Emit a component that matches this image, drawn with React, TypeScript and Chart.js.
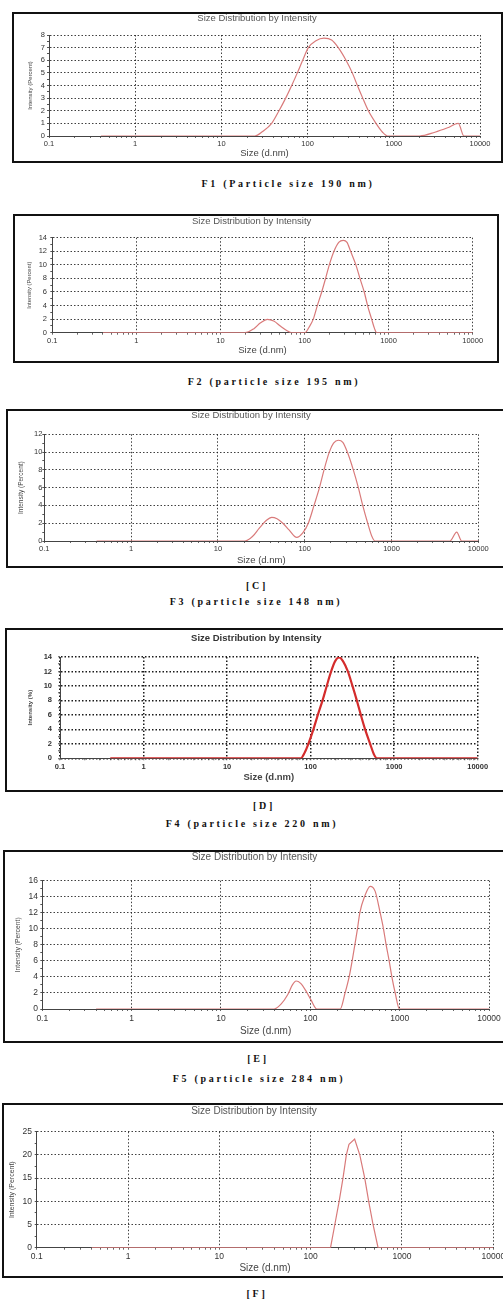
import React, { useEffect, useRef } from 'react';
import { Chart, registerables } from 'chart.js';

Chart.register(...registerables);

// ---------- shared axis data ----------
const X_MAJOR_VALUES = [0.1, 1, 10, 100, 1000, 10000];
const X_MAJOR_LABELS = ['0.1', '1', '10', '100', '1000', '10000'];
const X_MINOR_FACTORS = [2, 3, 4, 5, 6, 7, 8, 9];
const PANEL_TITLE = 'Size Distribution by Intensity';
const X_TITLE = 'Size (d.nm)';

// ---------- F1 ----------
const F1_SIZE = [0.4, 10, 24.5, 30, 38.3, 46.6, 55.7, 65.4, 76, 87.7, 102, 125, 155, 190, 227, 279, 330, 378, 436, 507, 622, 740, 850, 2000, 3000, 4200, 5600, 6500, 10000];
const F1_INTENSITY = [0, 0, 0, 0.35, 1, 2, 3, 4, 5, 6, 7, 7.55, 7.75, 7.6, 7, 6, 5, 4, 3, 2, 1, 0.3, 0, 0, 0.3, 0.65, 1.0, 0, 0];
const F1_Y_TICKS = [0, 1, 2, 3, 4, 5, 6, 7, 8];

// ---------- F2 ----------
const F2_SIZE = [0.4, 10, 19.6, 25, 30, 36, 43, 52, 62, 70, 96, 101, 113, 127, 142, 160, 178, 197, 224, 255, 289, 320, 353, 408, 456, 513, 562, 628, 680, 720, 10000];
const F2_INTENSITY = [0, 0, 0, 0.6, 1.45, 1.97, 1.72, 0.95, 0.3, 0, 0, 0, 0.8, 2, 4, 6, 8, 10, 12, 13.3, 13.6, 13.3, 12, 10, 8, 6, 4, 2, 0.6, 0, 0];
const F2_Y_TICKS = [0, 2, 4, 6, 8, 10, 12, 14];

// ---------- F3 ----------
const F3_SIZE = [0.4, 10, 20.5, 25, 30, 36, 41.7, 48, 56, 66, 81, 95, 110, 128, 148, 167, 192, 215, 244, 275, 310, 363, 415, 466, 532, 590, 646, 4720, 5640, 6430, 10000];
const F3_INTENSITY = [0, 0, 0, 0.5, 1.45, 2.3, 2.66, 2.5, 2.0, 1.25, 0.4, 0.9, 2, 4, 6, 8, 10, 11.0, 11.33, 11.1, 10, 8, 6, 4, 2, 0.6, 0, 0, 1.0, 0, 0];
const F3_Y_TICKS = [0, 2, 4, 6, 8, 10, 12];

// ---------- F4 ----------
const F4_SIZE = [0.4, 10, 76.4, 85, 94, 108, 122, 139, 156, 176, 196, 219, 245, 279, 317, 357, 399, 449, 516, 570, 621, 10000];
const F4_INTENSITY = [0, 0, 0, 0.8, 2, 4, 6, 8, 10, 12, 13.4, 13.95, 13.4, 12, 10, 8, 6, 4, 2, 0.6, 0, 0];
const F4_Y_TICKS = [0, 2, 4, 6, 8, 10, 12, 14];

// ---------- F5 ----------
const F5_SIZE = [0.4, 10, 39.3, 47, 56, 63, 69.3, 78, 90, 102, 118, 216, 245, 272, 294, 315, 337, 358, 404, 468, 531, 605, 659, 706, 763, 818, 891, 996, 10000];
const F5_INTENSITY = [0, 0, 0, 0.6, 1.8, 3.0, 3.49, 3.2, 2.2, 1.1, 0, 0, 2, 4, 6, 8, 10, 12, 14, 15.3, 14.7, 12, 10, 8, 6, 4, 2, 0, 0];
const F5_Y_TICKS = [0, 2, 4, 6, 8, 10, 12, 14, 16];

// ---------- F6 ----------
const F6_SIZE = [0.4, 10, 165, 184, 205, 226, 246, 263, 303, 345, 391, 432, 482, 547, 10000];
const F6_INTENSITY = [0, 0, 0, 5, 10, 15, 20, 22.3, 23.4, 20, 15, 10, 5, 0, 0];
const F6_Y_TICKS = [0, 5, 10, 15, 20, 25];

const SANS = '"Liberation Sans", Arial, Helvetica, sans-serif';
const SERIF = '"Liberation Serif", "Times New Roman", Times, serif';
const BORDER = 2;

type Caption = { text: string; cx: number; cy: number };
type PanelDef = {
  sizes: number[];
  values: number[];
  yTicks: number[];
  yTitle: string;
  box: { x: number; y: number; w: number; h: number };
  plot: { l: number; t: number; r: number; b: number };
  title: { x: number; y: number; size: number; bold?: boolean };
  xTickCY: number;
  xTitleCY: number;
  yTitleCX: number;
  yLabelRight: number;
  tickSize: number;
  xTitleSize: number;
  yTitleSize: number;
  lineColor: string;
  lineWidth: number;
  gridColor: string;
  gridWidth: number;
  tension: number;
  bold?: boolean;
  captions: Caption[];
};

const LINE_PINK = '#d97a7a';

const PANELS: PanelDef[] = [
  {
    sizes: F1_SIZE, values: F1_INTENSITY, yTicks: F1_Y_TICKS, yTitle: 'Intensity (Percent)',
    box: { x: 12, y: 12, w: 491, h: 151 },
    plot: { l: 49, t: 35, r: 480, b: 136 },
    title: { x: 257, y: 18, size: 9.5 },
    xTickCY: 144, xTitleCY: 153, yTitleCX: 30, yLabelRight: 45,
    tickSize: 7.5, xTitleSize: 9.5, yTitleSize: 6,
    lineColor: LINE_PINK, lineWidth: 1.2, gridColor: 'rgba(30,30,30,0.85)', gridWidth: 1, tension: 0.4,
    captions: [{ text: 'F1 (Particle size 190 nm)', cx: 288, cy: 184 }],
  },
  {
    sizes: F2_SIZE, values: F2_INTENSITY, yTicks: F2_Y_TICKS, yTitle: 'Intensity (Percent)',
    box: { x: 13, y: 214, w: 486, h: 149 },
    plot: { l: 52.3, t: 237.7, r: 472.7, b: 332.7 },
    title: { x: 251.7, y: 221, size: 9.5 },
    xTickCY: 341, xTitleCY: 350, yTitleCX: 29, yLabelRight: 47,
    tickSize: 7.5, xTitleSize: 9.5, yTitleSize: 5.8,
    lineColor: LINE_PINK, lineWidth: 1.2, gridColor: 'rgba(30,30,30,0.85)', gridWidth: 1, tension: 0.4,
    captions: [{ text: 'F2 (particle size 195 nm)', cx: 274, cy: 382 }],
  },
  {
    sizes: F3_SIZE, values: F3_INTENSITY, yTicks: F3_Y_TICKS, yTitle: 'Intensity (Percent)',
    box: { x: 6, y: 409, w: 520, h: 159 },
    plot: { l: 44.3, t: 434.3, r: 478.3, b: 541 },
    title: { x: 251, y: 415, size: 9.5 },
    xTickCY: 549, xTitleCY: 560, yTitleCX: 21.7, yLabelRight: 43,
    tickSize: 7.5, xTitleSize: 9.5, yTitleSize: 6.5,
    lineColor: LINE_PINK, lineWidth: 1.2, gridColor: 'rgba(30,30,30,0.85)', gridWidth: 1, tension: 0.4,
    captions: [
      { text: '[C]', cx: 257, cy: 586 },
      { text: 'F3 (particle size 148 nm)', cx: 256, cy: 602 },
    ],
  },
  {
    sizes: F4_SIZE, values: F4_INTENSITY, yTicks: F4_Y_TICKS, yTitle: 'Intensity (%)',
    box: { x: 5, y: 628, w: 520, h: 164 },
    plot: { l: 60, t: 657, r: 477.7, b: 758.3 },
    title: { x: 256.3, y: 638, size: 9.5, bold: true },
    xTickCY: 767, xTitleCY: 777, yTitleCX: 30, yLabelRight: 52,
    tickSize: 7.5, xTitleSize: 9.5, yTitleSize: 6,
    lineColor: '#d42c2c', lineWidth: 2.2, gridColor: 'rgba(15,15,15,0.95)', gridWidth: 1.5, tension: 0.4,
    bold: true,
    captions: [
      { text: '[D]', cx: 264, cy: 806 },
      { text: 'F4 (particle size 220 nm)', cx: 252, cy: 824 },
    ],
  },
  {
    sizes: F5_SIZE, values: F5_INTENSITY, yTicks: F5_Y_TICKS, yTitle: 'Intensity (Percent)',
    box: { x: 3, y: 850, w: 520, h: 193 },
    plot: { l: 42.3, t: 880.7, r: 489, b: 1009 },
    title: { x: 254.5, y: 857, size: 10 },
    xTickCY: 1019, xTitleCY: 1031, yTitleCX: 18, yLabelRight: 38,
    tickSize: 8.5, xTitleSize: 10, yTitleSize: 6.8,
    lineColor: LINE_PINK, lineWidth: 1.2, gridColor: 'rgba(30,30,30,0.85)', gridWidth: 1, tension: 0.4,
    captions: [
      { text: '[E]', cx: 258, cy: 1059 },
      { text: 'F5 (particle size 284 nm)', cx: 259, cy: 1079 },
    ],
  },
  {
    sizes: F6_SIZE, values: F6_INTENSITY, yTicks: F6_Y_TICKS, yTitle: 'Intensity (Percent)',
    box: { x: 2, y: 1103, w: 520, h: 175 },
    plot: { l: 36.7, t: 1131.7, r: 493.3, b: 1247.7 },
    title: { x: 254, y: 1111, size: 10 },
    xTickCY: 1257, xTitleCY: 1268, yTitleCX: 11.7, yLabelRight: 32,
    tickSize: 8.5, xTitleSize: 10, yTitleSize: 7,
    lineColor: LINE_PINK, lineWidth: 1.2, gridColor: 'rgba(30,30,30,0.85)', gridWidth: 1, tension: 0,
    captions: [{ text: '[F]', cx: 257, cy: 1294 }],
  },
];

const panelTitlePlugin = {
  id: 'panelTitle',
  afterDraw(chart: any, _args: any, opts: any) {
    const ctx = chart.ctx;
    ctx.save();
    ctx.font = `${opts.weight} ${opts.size}px ${SANS}`;
    ctx.fillStyle = opts.color;
    ctx.textAlign = 'center';
    ctx.textBaseline = 'middle';
    ctx.fillText(opts.text, opts.x, opts.y);
    ctx.restore();
  },
};

const isDecade = (v: number) => {
  const l = Math.log10(v);
  return Math.abs(l - Math.round(l)) < 1e-6;
};

function buildXTicks(): number[] {
  const out: number[] = [];
  for (let i = 0; i < X_MAJOR_VALUES.length; i++) {
    out.push(X_MAJOR_VALUES[i]);
    if (i < X_MAJOR_VALUES.length - 1) {
      for (const f of X_MINOR_FACTORS) out.push(X_MAJOR_VALUES[i] * f);
    }
  }
  return out;
}

function xLabel(v: number): string {
  for (let i = 0; i < X_MAJOR_VALUES.length; i++) {
    if (Math.abs(Math.log10(v) - Math.log10(X_MAJOR_VALUES[i])) < 1e-6) return X_MAJOR_LABELS[i];
  }
  return '';
}

function Panel({ p }: { p: PanelDef }) {
  const ref = useRef<HTMLCanvasElement | null>(null);
  const cx = p.box.x + BORDER;
  const cy = p.box.y + BORDER;
  const cw = p.box.w - 2 * BORDER;
  const ch = p.box.h - 2 * BORDER;

  useEffect(() => {
    const canvas = ref.current;
    if (!canvas) return;
    const pl = p.plot.l - cx;
    const pt = p.plot.t - cy;
    const pr = p.plot.r - cx;
    const pb = p.plot.b - cy;

    const xTicks = buildXTicks();
    const yMajors = p.yTicks;
    const yAll: number[] = [];
    for (let i = 0; i < yMajors.length; i++) {
      yAll.push(yMajors[i]);
      if (i < yMajors.length - 1) yAll.push((yMajors[i] + yMajors[i + 1]) / 2);
    }
    const isYMajor = (v: number) => yMajors.some((m) => Math.abs(m - v) < 1e-9);

    const xTickLen = 2;
    const yTickLen = 2;
    const tickLH = p.tickSize * 1.2;
    const xTickPad = Math.max(0, p.xTickCY - p.plot.b - xTickLen - tickLH / 2);
    const yTickPad = Math.max(0, p.plot.l - p.yLabelRight - yTickLen);
    const xTitleLH = p.xTitleSize * 1.2;
    const xTitlePadBottom = Math.max(0, cy + ch - p.xTitleCY - xTitleLH / 2);
    const yTitleLH = p.yTitleSize * 1.2;
    const yTitlePadTop = Math.max(0, p.yTitleCX - cx - yTitleLH / 2);
    const weight = p.bold ? 'bold' : 'normal';

    const points = p.sizes.map((s, i) => ({ x: s, y: p.values[i] }));

    const chart = new Chart(canvas, {
      type: 'line',
      data: {
        datasets: [
          {
            data: points,
            borderColor: p.lineColor,
            borderWidth: p.lineWidth,
            pointRadius: 0,
            fill: false,
            tension: p.tension,
            cubicInterpolationMode: p.tension > 0 ? 'monotone' : 'default',
          },
        ],
      },
      options: {
        responsive: false,
        animation: false,
        events: [],
        layout: { padding: { left: 0, top: pt, right: cw - pr, bottom: 0 } },
        plugins: {
          legend: { display: false },
          tooltip: { enabled: false },
          title: { display: false },
          panelTitle: {
            text: PANEL_TITLE,
            x: p.title.x - cx,
            y: p.title.y - cy,
            size: p.title.size,
            weight: p.title.bold ? 'bold' : 'normal',
            color: p.title.bold ? '#333' : '#555',
          },
        } as any,
        scales: {
          x: {
            type: 'logarithmic',
            min: 0.1,
            max: 10000,
            afterBuildTicks: (s: any) => {
              s.ticks = xTicks.map((v) => ({ value: v, major: isDecade(v) }));
            },
            afterFit: (s: any) => {
              s.height = ch - pb;
            },
            ticks: {
              autoSkip: false,
              maxRotation: 0,
              minRotation: 0,
              padding: xTickPad,
              color: '#333',
              font: { family: SANS, size: p.tickSize, weight: weight as any },
              callback: (v: any) => xLabel(Number(v)),
            },
            grid: {
              color: (c: any) => (c.tick && isDecade(c.tick.value) ? p.gridColor : 'rgba(0,0,0,0)'),
              tickColor: '#666',
              tickLength: xTickLen,
              lineWidth: p.gridWidth,
              tickWidth: 1,
            },
            border: { display: true, color: '#444', width: 1, dash: [1.5, 2] },
            title: {
              display: true,
              text: X_TITLE,
              color: '#444',
              font: { family: SANS, size: p.xTitleSize, weight: weight as any },
              padding: { top: 0, bottom: xTitlePadBottom },
            },
          },
          y: {
            type: 'linear',
            min: 0,
            max: yMajors[yMajors.length - 1],
            afterBuildTicks: (s: any) => {
              s.ticks = yAll.map((v) => ({ value: v }));
            },
            afterFit: (s: any) => {
              s.width = pl;
            },
            ticks: {
              autoSkip: false,
              padding: yTickPad,
              color: '#333',
              font: { family: SANS, size: p.tickSize, weight: weight as any },
              callback: (v: any) => (isYMajor(Number(v)) ? String(v) : ''),
            },
            grid: {
              color: (c: any) => (c.tick && isYMajor(c.tick.value) ? p.gridColor : 'rgba(0,0,0,0)'),
              tickColor: '#555',
              tickLength: yTickLen,
              lineWidth: p.gridWidth,
              tickWidth: 1,
            },
            border: { display: true, color: '#444', width: 1, dash: [1.5, 2] },
            title: {
              display: true,
              text: p.yTitle,
              color: '#444',
              font: { family: SANS, size: p.yTitleSize, weight: weight as any },
              padding: { top: yTitlePadTop, bottom: 0 },
            },
          },
        },
      } as any,
      plugins: [panelTitlePlugin as any],
    });
    return () => chart.destroy();
  }, []);

  return (
    <>
      <div
        style={{
          position: 'absolute',
          left: p.box.x,
          top: p.box.y,
          width: p.box.w,
          height: p.box.h,
          boxSizing: 'border-box',
          border: `${BORDER}px solid #111`,
          background: '#fff',
        }}
      >
        <canvas ref={ref} width={cw} height={ch} style={{ display: 'block' }} />
      </div>
      {p.captions.map((c, i) => (
        <div
          key={i}
          style={{
            position: 'absolute',
            left: c.cx - 150,
            top: c.cy - 7,
            width: 300,
            height: 14,
            lineHeight: '14px',
            textAlign: 'center',
            fontFamily: SERIF,
            fontWeight: 'bold',
            fontSize: 10,
            letterSpacing: '2.7px',
            whiteSpace: 'nowrap',
            color: '#111',
          }}
        >
          {c.text}
        </div>
      ))}
    </>
  );
}

export default function App() {
  return (
    <div
      style={{
        position: 'absolute',
        left: 0,
        top: 0,
        width: 503,
        height: 1299,
        overflow: 'hidden',
        background: '#fff',
      }}
    >
      {PANELS.map((p, i) => (
        <Panel key={i} p={p} />
      ))}
    </div>
  );
}
